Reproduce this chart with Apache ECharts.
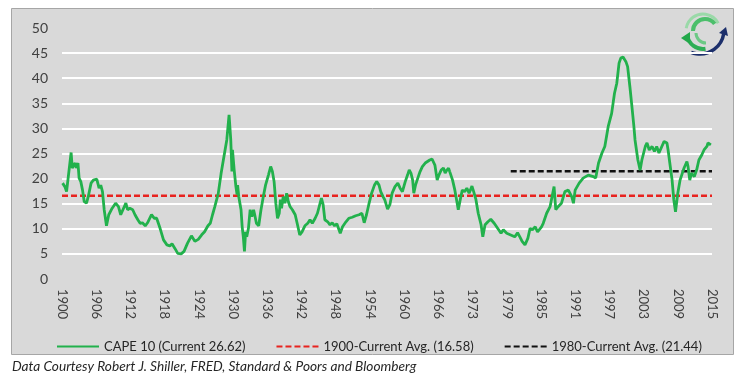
<!DOCTYPE html>
<html>
<head>
<meta charset="utf-8">
<script src="https://cdn.jsdelivr.net/npm/echarts@6/dist/echarts.min.js"></script>
<style>
html,body{margin:0;padding:0;background:#fff;}
#chart{width:750px;height:383px;}
</style>
</head>
<body>
<div id="chart"></div>
<script>
// Tick labels along the x axis (evenly spaced, every 6 slots)
var tickLabels = ['1900','1906','1912','1918','1924','1930','1936','1942','1948','1954','1960','1966','1973','1979','1985','1991','1997','2003','2009','2015'];
// CAPE 10: [position on year axis, value]
var capeValues = [[1900.1,19.1],[1900.5,18.4],[1900.8,17.4],[1901.6,25.2],[1901.8,22.1],[1902.3,23.1],[1902.5,22.1],[1902.8,23.1],[1903.0,20.1],[1903.3,19.4],[1903.6,17.7],[1903.9,15.4],[1904.3,15.1],[1904.6,16.4],[1905.1,19.1],[1905.5,19.7],[1906.1,19.9],[1906.5,18.1],[1906.8,18.7],[1907.1,17.4],[1907.4,13.8],[1907.8,10.6],[1908.2,12.8],[1908.8,14.1],[1909.4,15.1],[1909.9,14.4],[1910.3,12.8],[1910.8,14.1],[1911.2,15.1],[1911.5,13.8],[1911.9,14.1],[1912.4,13.8],[1912.8,12.8],[1913.3,11.8],[1913.7,11.1],[1914.1,11.2],[1914.6,10.6],[1915.0,11.2],[1915.7,12.8],[1916.2,12.1],[1916.6,12.1],[1917.2,10.1],[1917.8,7.8],[1918.4,6.8],[1918.9,6.6],[1919.3,7.0],[1919.8,6.1],[1920.3,5.1],[1920.9,5.0],[1921.4,5.5],[1922.0,7.1],[1922.7,8.6],[1923.3,7.5],[1923.9,7.9],[1924.5,8.8],[1925.0,9.4],[1925.6,10.6],[1926.0,11.1],[1926.4,12.8],[1926.8,14.4],[1927.4,17.0],[1927.9,21.0],[1928.3,23.7],[1928.6,25.7],[1928.9,27.7],[1929.2,28.0],[1929.3,32.7],[1929.6,27.7],[1929.8,21.4],[1929.9,25.7],[1930.2,21.7],[1930.5,18.4],[1930.7,16.8],[1930.8,18.7],[1931.0,16.4],[1931.4,13.8],[1931.6,10.4],[1931.8,8.4],[1932.0,5.5],[1932.2,9.4],[1932.4,8.4],[1932.7,10.1],[1933.0,13.8],[1933.3,12.4],[1933.6,13.8],[1933.8,12.8],[1934.1,11.1],[1934.5,10.6],[1934.9,13.8],[1935.3,16.4],[1935.7,18.7],[1936.2,20.7],[1936.6,22.4],[1936.9,21.4],[1937.2,19.4],[1937.5,15.1],[1937.8,12.1],[1938.1,13.1],[1938.3,15.8],[1938.5,14.1],[1938.8,16.4],[1939.1,15.1],[1939.4,17.1],[1939.7,15.4],[1940.0,14.4],[1940.4,13.8],[1940.9,12.8],[1941.3,10.8],[1941.7,8.8],[1942.1,9.4],[1942.6,10.6],[1943.1,11.1],[1943.5,11.8],[1943.9,11.1],[1944.4,12.1],[1944.8,13.1],[1945.2,14.8],[1945.5,16.1],[1945.8,14.8],[1946.1,11.8],[1946.6,11.4],[1947.0,10.8],[1947.4,11.2],[1947.8,10.6],[1948.2,11.0],[1948.8,9.1],[1949.2,10.4],[1949.8,11.4],[1950.3,12.1],[1950.9,12.3],[1951.5,12.6],[1952.1,12.8],[1952.6,13.1],[1953.0,11.2],[1953.4,12.8],[1953.8,14.8],[1954.3,17.1],[1954.8,18.7],[1955.2,19.4],[1955.6,18.7],[1955.9,17.4],[1956.3,16.4],[1956.6,15.8],[1957.1,13.9],[1957.5,14.8],[1957.9,17.1],[1958.4,18.4],[1958.9,19.1],[1959.3,18.1],[1959.7,17.4],[1960.2,19.4],[1960.6,20.7],[1960.9,21.7],[1961.2,21.1],[1961.5,19.7],[1961.7,17.1],[1962.0,18.7],[1962.4,20.1],[1962.8,21.4],[1963.2,22.4],[1963.7,23.1],[1964.1,23.4],[1964.5,23.7],[1964.9,23.9],[1965.2,24.1],[1965.4,22.7],[1965.8,19.7],[1966.1,20.7],[1966.5,21.7],[1966.9,22.1],[1967.2,21.1],[1967.5,21.7],[1967.8,22.1],[1968.0,21.4],[1968.5,19.7],[1968.9,17.7],[1969.2,15.8],[1969.5,13.8],[1969.9,16.1],[1970.2,17.7],[1970.6,17.4],[1971.0,18.1],[1971.4,17.1],[1971.9,18.5],[1972.2,17.4],[1972.6,15.8],[1973.0,13.1],[1973.5,10.8],[1973.8,8.4],[1974.2,10.8],[1974.7,11.4],[1975.2,11.9],[1975.8,11.1],[1976.4,10.1],[1977.0,9.1],[1977.4,9.8],[1978.0,9.1],[1978.6,8.8],[1979.4,8.4],[1979.9,9.2],[1980.3,8.4],[1980.7,7.5],[1981.2,6.8],[1981.5,6.6],[1981.7,8.1],[1982.1,10.1],[1982.5,9.8],[1983.0,10.4],[1983.4,9.4],[1984.1,10.4],[1984.4,11.1],[1985.0,13.1],[1985.6,14.4],[1986.3,18.4],[1986.6,13.8],[1987.0,14.4],[1987.6,15.1],[1988.2,17.4],[1988.8,17.7],[1989.4,16.4],[1989.7,15.1],[1990.0,17.7],[1990.7,19.1],[1991.4,20.1],[1992.3,20.7],[1993.2,20.4],[1993.6,20.1],[1994.1,23.1],[1994.7,25.1],[1995.2,26.4],[1995.8,30.4],[1996.4,33.0],[1996.9,37.0],[1997.3,39.0],[1997.7,43.0],[1998.0,44.0],[1998.4,44.2],[1998.9,43.3],[1999.2,42.3],[1999.6,38.3],[1999.9,35.0],[2000.3,30.4],[2000.5,27.7],[2001.0,23.7],[2001.4,21.7],[2001.7,23.7],[2002.3,26.4],[2002.6,27.1],[2003.0,25.7],[2003.5,26.4],[2003.9,25.4],[2004.3,26.4],[2004.7,25.1],[2005.2,26.4],[2005.6,27.4],[2006.1,27.1],[2006.3,25.7],[2006.6,23.1],[2007.0,19.7],[2007.3,15.8],[2007.6,13.4],[2008.0,17.1],[2008.4,19.7],[2008.8,21.1],[2009.1,22.1],[2009.6,23.4],[2009.8,22.4],[2010.1,19.7],[2010.4,21.1],[2010.9,20.4],[2011.3,21.7],[2011.7,23.7],[2012.2,24.7],[2012.6,25.7],[2013.1,26.4],[2013.3,27.1],[2013.8,26.7]];
// Averages: [start, end] on the year axis and value
var avg1900Span = [1900, 2014];
var avg1900Value = 16.58;
var avg1980Span = [1978.7, 2014];
var avg1980Value = 21.44;
var seriesNames = ['CAPE 10 (Current 26.62)', '1900-Current Avg. (16.58)', '1980-Current Avg. (21.44)'];
var caption = 'Data Courtesy Robert J. Shiller, FRED, Standard & Poors and Bloomberg';

var FONT = 'Lato';
var TXT = '#404040';
var chart = echarts.init(document.getElementById('chart'), null, {renderer: 'canvas'});

var splitColors = ['rgba(0,0,0,0)'];
for (var i = 1; i < 10; i++) splitColors.push('#ffffff');
splitColors.push('rgba(0,0,0,0)');

var baseGraphics = [
  {type: 'rect', z: -10, shape: {x: 11.5, y: 8.5, width: 722, height: 346},
   style: {fill: '#d9d9d9', stroke: '#a6a6a6', lineWidth: 1}},
  {type: 'text', left: 12, top: 360,
   style: {text: caption, font: 'italic 13.7px Lato', fill: '#262626'}},
  // logo (decorative)
  {type: 'group', z: 5, children: [
    {type: 'arc', shape: {cx: 703, cy: 31, r: 17, startAngle: Math.PI * 1.05, endAngle: Math.PI * 1.85},
     style: {stroke: '#9ad9a8', lineWidth: 3, fill: null}},
    {type: 'arc', shape: {cx: 705, cy: 31, r: 12, startAngle: Math.PI * 1.0, endAngle: Math.PI * 1.8},
     style: {stroke: '#4cbf6b', lineWidth: 4, fill: null}},
    {type: 'arc', shape: {cx: 703, cy: 33, r: 16, startAngle: Math.PI * 0.45, endAngle: Math.PI * 0.95},
     style: {stroke: '#2eae55', lineWidth: 4, fill: null}},
    {type: 'arc', shape: {cx: 706, cy: 33, r: 10, startAngle: Math.PI * 0.5, endAngle: Math.PI * 1.0},
     style: {stroke: '#6cc985', lineWidth: 3, fill: null}},
    {type: 'polygon', shape: {points: [[681, 38], [690, 32], [690, 44]]},
     style: {fill: '#22a84a'}},
    {type: 'arc', shape: {cx: 700, cy: 30, r: 24, startAngle: Math.PI * 0.05, endAngle: Math.PI * 0.62},
     style: {stroke: '#1c2f6b', lineWidth: 3.5, fill: null}},
    {type: 'polygon', shape: {points: [[726, 27], [719, 33], [728, 36]]},
     style: {fill: '#1c2f6b'}}
  ]}
];

chart.setOption({
  backgroundColor: '#ffffff',
  animation: false,
  textStyle: {fontFamily: FONT},
  grid: {left: 62, right: 38, top: 28, bottom: 104},
  graphic: baseGraphics,
  legend: {
    left: 51, top: 335, width: 690, itemWidth: 42, itemHeight: 14, itemGap: 30,
    itemStyle: {opacity: 0},
    textStyle: {fontFamily: FONT, fontSize: 13, color: '#262626'},
    data: seriesNames
  },
  xAxis: {type: 'value', min: 1900, max: 2014, interval: 6,
    axisLine: {show: false}, axisTick: {show: false}, splitLine: {show: false},
    axisLabel: {show: false}},
  yAxis: {
    type: 'value', min: 0, max: 50, interval: 5,
    axisLine: {show: false}, axisTick: {show: false},
    splitLine: {show: true, lineStyle: {color: splitColors, width: 2}},
    axisLabel: {fontSize: 14, color: TXT, fontFamily: FONT, margin: 14}
  },
  series: [
    {name: seriesNames[0], type: 'line', data: capeValues, showSymbol: false, symbol: 'none',
     lineStyle: {color: '#22b14c', width: 2.8}, itemStyle: {color: '#22b14c'}, z: 3},
    {name: seriesNames[1], type: 'line', showSymbol: false, symbol: 'none',
     data: [[avg1900Span[0], avg1900Value], [avg1900Span[1], avg1900Value]],
     lineStyle: {color: '#e8231f', width: 2.5, type: [6, 3]}, itemStyle: {color: '#e8231f'}, z: 2},
    {name: seriesNames[2], type: 'line', showSymbol: false, symbol: 'none',
     data: [[avg1980Span[0], avg1980Value], [avg1980Span[1], avg1980Value]],
     lineStyle: {color: '#111111', width: 2.5, type: [6, 3]}, itemStyle: {color: '#111111'}, z: 2}
  ]
});

// Vertical tick labels placed through the axis scale (reading top to bottom)
var labelGraphics = tickLabels.map(function (t, k) {
  var p = chart.convertToPixel({xAxisIndex: 0, yAxisIndex: 0}, [1900 + 6 * k, 0]);
  return {type: 'text', x: p[0], y: p[1] + 10, rotation: -Math.PI / 2, z: 10,
    style: {text: t, font: '13px Lato', fill: TXT, align: 'left', verticalAlign: 'middle'}};
});
chart.setOption({graphic: baseGraphics.concat(labelGraphics)});
</script>
</body>
</html>
